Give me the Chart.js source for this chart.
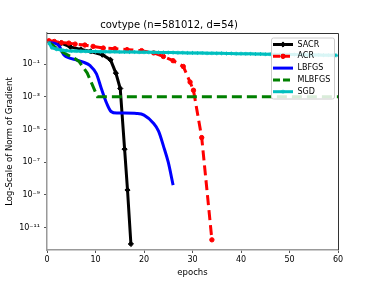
<!DOCTYPE html>
<html>
<head>
<meta charset="utf-8">
<script src="https://cdn.jsdelivr.net/npm/chart.js@4"></script>
<style>
  html, body { margin: 0; padding: 0; background: #fff; }
  #wrap { width: 376px; height: 282px; }
</style>
</head>
<body>
<div id="wrap"><canvas id="chart" width="376" height="282"></canvas></div>
<script>
// Data (x = epochs, y = norm of gradient)
const sacrEpochs = [0.6, 2.9, 4.8, 7, 9, 11.4, 13.1, 14.2, 15.1, 16, 16.6, 17.3];
const sacrValues = [2.24, 1.9, 1.12, 0.79, 0.59, 0.37, 0.18, 0.028, 3.2e-3, 6.3e-7, 2e-9, 1e-12];

const acrEpochs = [0.4, 1.5, 3, 4.5, 5.8, 7.8, 9.5, 11.6, 14, 16.5, 19.5, 22, 24, 26, 28.1, 29.5, 30.2, 31.9, 34];
const acrValues = [2.63, 2.4, 2.0, 1.9, 1.66, 1.45, 1.2, 0.95, 0.87, 0.76, 0.66, 0.48, 0.29, 0.16, 0.071, 7.9e-3, 2.5e-3, 3.2e-6, 1.8e-12];

const lbfgsEpochs = [0.4, 1.5, 2.5, 3.5, 4.7, 6, 7.5, 8.9, 10.2, 11.2, 12.3, 13.2, 14.4, 16, 18.5, 20, 21.9, 23, 24, 25, 26];
const lbfgsValues = [2.0, 1.9, 1.26, 0.35, 0.23, 0.18, 0.13, 0.079, 0.025, 3.2e-3, 4e-4, 1.26e-4, 1e-4, 1e-4, 9.5e-5, 7.6e-5, 2.5e-5, 7.9e-6, 1e-6, 1e-7, 4e-9];

const mlbfgsEpochs = [0.4, 1, 2, 3.5, 5.6, 6.6, 8.3, 10.4, 60];
const mlbfgsValues = [2.0, 1.58, 0.89, 0.47, 0.23, 0.145, 0.028, 1e-3, 1e-3];

const sgdEpochs = [0.4, 1, 2, 3, 4, 5, 6, 7, 8, 9, 10, 11, 12, 13, 14, 15, 16, 17, 18, 19, 20,
  21, 22, 23, 24, 25, 26, 27, 28, 29, 30, 31, 32, 33, 34, 35, 36, 37, 38, 39, 40,
  41, 42, 43, 44, 45, 46, 47, 48, 49, 50, 51, 52, 53, 54, 55, 56, 57, 58, 59, 59.6];
const sgdValues = [1.95, 1.0, 0.8, 0.72, 0.66, 0.63, 0.62, 0.6, 0.6, 0.58, 0.58,
  0.57, 0.57, 0.56, 0.56, 0.55, 0.55, 0.54, 0.54, 0.53, 0.53,
  0.52, 0.52, 0.51, 0.51, 0.5, 0.5, 0.49, 0.49, 0.48, 0.48,
  0.47, 0.47, 0.46, 0.46, 0.45, 0.45, 0.44, 0.44, 0.43, 0.43,
  0.42, 0.42, 0.41, 0.41, 0.4, 0.4, 0.39, 0.39, 0.39, 0.38,
  0.38, 0.37, 0.37, 0.36, 0.36, 0.36, 0.35, 0.35, 0.34, 0.34];

const xTicks = [0, 10, 20, 30, 40, 50, 60];
const yTicks = [1e-11, 1e-9, 1e-7, 1e-5, 1e-3, 1e-1];
const yTickLabels = ['10\u207B\u00B9\u00B9', '10\u207B\u2079', '10\u207B\u2077', '10\u207B\u2075', '10\u207B\u00B3', '10\u207B\u00B9'];

const colors = {
  black: '#000000',
  red: '#ff0000',
  blue: '#0000ff',
  green: '#008000',
  cyan: '#00bfbf',
};

const FONT = 'DejaVu Sans';

const toPoints = (xs, ys) => xs.map((x, i) => ({ x, y: ys[i] }));

const series = [
  { label: 'SACR', data: toPoints(sacrEpochs, sacrValues), color: colors.black, dash: [], marker: 'rectRot', radius: 2.6, order: 4 },
  { label: 'ACR', data: toPoints(acrEpochs, acrValues), color: colors.red, dash: [10, 5], marker: 'circle', radius: 2.2, order: 3 },
  { label: 'LBFGS', data: toPoints(lbfgsEpochs, lbfgsValues), color: colors.blue, dash: [], marker: false, radius: 0, order: 2 },
  { label: 'MLBFGS', data: toPoints(mlbfgsEpochs, mlbfgsValues), color: colors.green, dash: [10, 5], marker: false, radius: 0, order: 1 },
  { label: 'SGD', data: toPoints(sgdEpochs, sgdValues), color: colors.cyan, dash: [], marker: 'star', radius: 2, order: 0 },
];

// Frame round the plot area (matplotlib spines)
const framePlugin = {
  id: 'frame',
  afterDraw(chart) {
    const { ctx, chartArea: a } = chart;
    ctx.save();
    ctx.lineWidth = 1;
    ctx.strokeStyle = '#333';
    ctx.beginPath();
    ctx.moveTo(a.left, a.top + 0.5);
    ctx.lineTo(a.right + 0.5, a.top + 0.5);
    ctx.lineTo(a.right + 0.5, a.bottom);
    ctx.stroke();
    ctx.restore();
  },
};

// Legend inside the plot, top right
const legendPlugin = {
  id: 'innerLegend',
  afterDraw(chart) {
    const { ctx } = chart;
    const box = { x: 271, y: 37.5, w: 63, h: 61 };
    ctx.save();
    ctx.fillStyle = 'rgba(255,255,255,0.85)';
    ctx.strokeStyle = '#cccccc';
    ctx.lineWidth = 1;
    ctx.beginPath();
    ctx.roundRect(box.x + 0.5, box.y + 0.5, box.w, box.h, 2);
    ctx.fill();
    ctx.stroke();

    series.forEach((s, i) => {
      const y = 44.5 + i * 11.8;
      ctx.save();
      ctx.strokeStyle = s.color;
      ctx.lineWidth = 3;
      ctx.setLineDash(s.dash.length ? [7, 3] : []);
      ctx.beginPath();
      ctx.moveTo(273, y);
      ctx.lineTo(293, y);
      ctx.stroke();
      ctx.setLineDash([]);
      if (s.marker) {
        ctx.lineWidth = 1;
        Chart.helpers.drawPoint(ctx, {
          pointStyle: s.marker,
          radius: s.radius,
          borderWidth: 1,
          rotation: 0,
        }, 283, y);
        ctx.fillStyle = s.color;
        ctx.fill();
      }
      ctx.restore();
      ctx.fillStyle = '#000';
      ctx.font = `8px "${FONT}"`;
      ctx.textBaseline = 'middle';
      ctx.textAlign = 'left';
      ctx.fillText(s.label, 297.5, y);
    });
    ctx.restore();
  },
};

const ctx = document.getElementById('chart');
new Chart(ctx, {
  type: 'line',
  data: {
    datasets: series.map((s) => ({
      label: s.label,
      data: s.data,
      borderColor: s.color,
      backgroundColor: s.color,
      borderWidth: 3,
      borderDash: s.dash,
      pointStyle: s.marker || 'circle',
      pointRadius: s.radius,
      pointBorderWidth: 1,
      pointBorderColor: s.color,
      pointBackgroundColor: s.color,
      cubicInterpolationMode: s.label === 'LBFGS' ? 'monotone' : 'default',
      tension: 0,
      fill: false,
      order: s.order,
    })),
  },
  options: {
    responsive: false,
    animation: false,
    layout: { padding: { left: 0, right: 38, top: 0, bottom: 0 } },
    plugins: {
      legend: { display: false },
      tooltip: { enabled: false },
      title: {
        display: true,
        text: 'covtype (n=581012, d=54)',
        color: '#000',
        font: { family: FONT, size: 10, weight: 'normal' },
        padding: { top: 19, bottom: 2 },
      },
    },
    scales: {
      x: {
        type: 'linear',
        min: 0,
        max: 60,
        afterBuildTicks: (scale) => {
          scale.ticks = xTicks.map((v) => ({ value: v }));
        },
        afterFit: (scale) => {
          scale.height = 32;
        },
        grid: { display: true, drawOnChartArea: false, drawTicks: true, tickLength: 3, color: '#555' },
        border: { display: true, color: '#999', width: 1.5 },
        ticks: { color: '#000', font: { family: FONT, size: 8 }, padding: 2, maxRotation: 0 },
        title: {
          display: true,
          text: 'epochs',
          color: '#000',
          font: { family: FONT, size: 8.5 },
          padding: { top: 2, bottom: 4.5 },
        },
      },
      y: {
        type: 'logarithmic',
        min: 4.3e-13,
        max: 7.9,
        afterBuildTicks: (scale) => {
          scale.ticks = yTicks.map((v) => ({ value: v }));
        },
        afterFit: (scale) => {
          scale.width = 47;
        },
        grid: { display: true, drawOnChartArea: false, drawTicks: true, tickLength: 3, color: '#555' },
        border: { display: true, color: '#999', width: 1.5 },
        ticks: {
          color: '#000',
          font: { family: FONT, size: 8 },
          padding: 4,
          callback: (value) => {
            const i = yTicks.indexOf(value);
            return i >= 0 ? yTickLabels[i] : '';
          },
        },
        title: {
          display: true,
          text: 'Log-Scale of Norm of Gradient',
          color: '#000',
          font: { family: FONT, size: 8.5 },
          padding: { top: 5, bottom: 0 },
        },
      },
    },
  },
  plugins: [framePlugin, legendPlugin],
});
</script>
</body>
</html>
